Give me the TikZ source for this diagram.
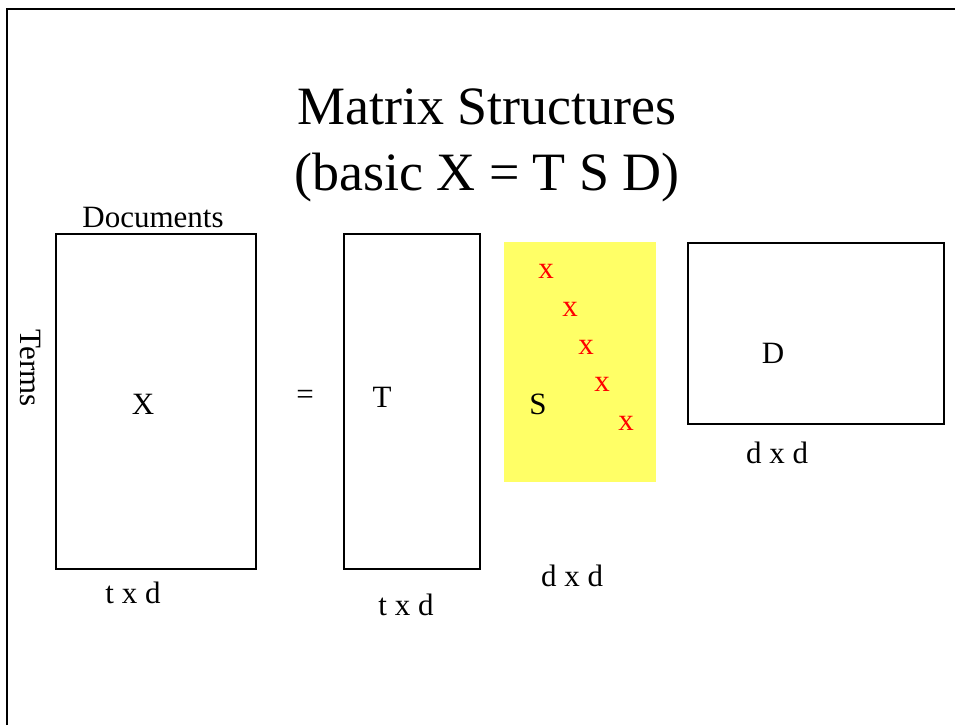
\documentclass[tikz,border=0pt]{standalone}
\usepackage{fontspec}
\setmainfont{Liberation Serif}
\usetikzlibrary{positioning}
\definecolor{slideyellow}{RGB}{255, 255, 102}
\definecolor{diagred}{RGB}{255, 0, 0}

\begin{document}
\begin{tikzpicture}[x=1pt, y=-1pt,
        mbox/.style={draw=black, line width=2.6pt, inner sep=0pt},
        sbox/.style={fill=slideyellow, inner sep=0pt},
        lbl/.style={font=\fontsize{31}{36}\selectfont, inner sep=0pt},
        diag/.style={font=\fontsize{31}{36}\selectfont, text=diagred, inner sep=0pt},
        ttl/.style={font=\fontsize{54}{66}\selectfont, align=center, inner sep=0pt}
    ]
    \useasboundingbox (0,0) rectangle (955,725);

    % Slide frame
    \draw[line width=1.7pt] (7,725) -- (7,9) -- (955,9);

    % Title
    \node[ttl] (title) at (487,145) {Matrix Structures\\(basic X = T S D)};

    % X matrix
    \node[mbox, minimum width=200, minimum height=335] (xmat) at (156,401.5) {};
    \node[lbl] (docs)  at (153,217) {Documents};
    \node[lbl, rotate=-90] (terms) at (30,368) {Terms};
    \node[lbl] (xname) at (143,404) {X};
    \node[lbl] (xdim)  at (133,593) {t x d};

    \node[lbl] (equals) at (305,397) {=};

    % T matrix
    \node[mbox, minimum width=136, minimum height=335] (tmat) at (412,401.5) {};
    \node[lbl] (tname) at (382,397) {T};
    \node[lbl] (tdim)  at (406,605) {t x d};

    % S matrix (diagonal)
    \node[sbox, minimum width=152, minimum height=240] (smat) at (580,362) {};
    \node[lbl] (sname) at (538,404) {S};
    \node[diag] (s1) at (546,271) {x};
    \node[diag] (s2) at (570,309) {x};
    \node[diag] (s3) at (586,347) {x};
    \node[diag] (s4) at (602,384) {x};
    \node[diag] (s5) at (626,423) {x};
    \node[lbl] (sdim) at (572,576) {d x d};

    % D matrix
    \node[mbox, minimum width=256, minimum height=181] (dmat) at (816,333.5) {};
    \node[lbl] (dname) at (773,353) {D};
    \node[lbl] (ddim)  at (777,453) {d x d};

\end{tikzpicture}
\end{document}
